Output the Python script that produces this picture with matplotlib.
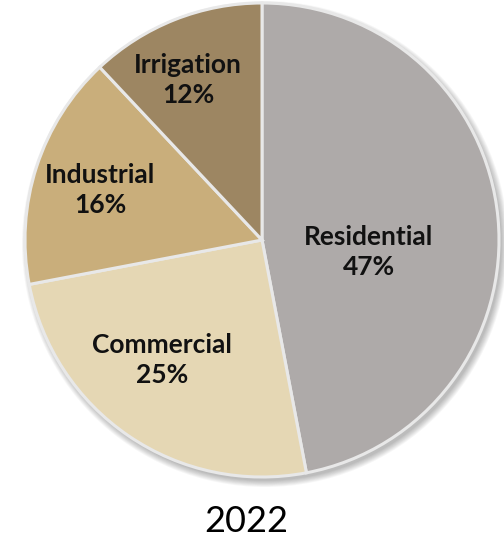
import matplotlib.pyplot as plt
from matplotlib.patches import Circle

categories = ["Residential", "Commercial", "Industrial", "Irrigation"]
shares = [47, 25, 16, 12]
colors = ["#aeaaa9", "#e5d7b4", "#c9ae7b", "#9d8662"]
year = "2022"

plt.rcParams["font.family"] = ["Lato", "DejaVu Sans"]

fig = plt.figure(figsize=(5.04, 5.42), dpi=100)
ax = fig.add_axes([0, 0, 1, 1])

cx, cy, r = 262, 302, 237

# soft drop shadow under the pie
for i in range(8):
    ax.add_patch(Circle((cx + 3, cy - 4), r + 6 - i * 0.9, color="#000000",
                        alpha=0.035, lw=0, zorder=0))

wedges, _ = ax.pie(
    shares, colors=colors, startangle=90, counterclock=False,
    center=(cx, cy), radius=r, frame=True,
    wedgeprops=dict(edgecolor="#e8e8e8", linewidth=2.2),
)
for w in wedges:
    w.set_zorder(2)

ax.set_xlim(0, 504)
ax.set_ylim(0, 542)
ax.set_aspect("equal")
ax.axis("off")

label_pos = [(369, 290), (162, 182), (100, 352), (188, 462)]
for name, val, (x, y) in zip(categories, shares, label_pos):
    ax.text(x, y, f"{name}\n{val}%", ha="center", va="center",
            fontsize=19, fontweight="bold", color="#111111",
            linespacing=1.3, zorder=3)

ax.text(246, 21, year, ha="center", va="center", fontsize=26, color="#000000")

fig.savefig("out.png", dpi=100)
